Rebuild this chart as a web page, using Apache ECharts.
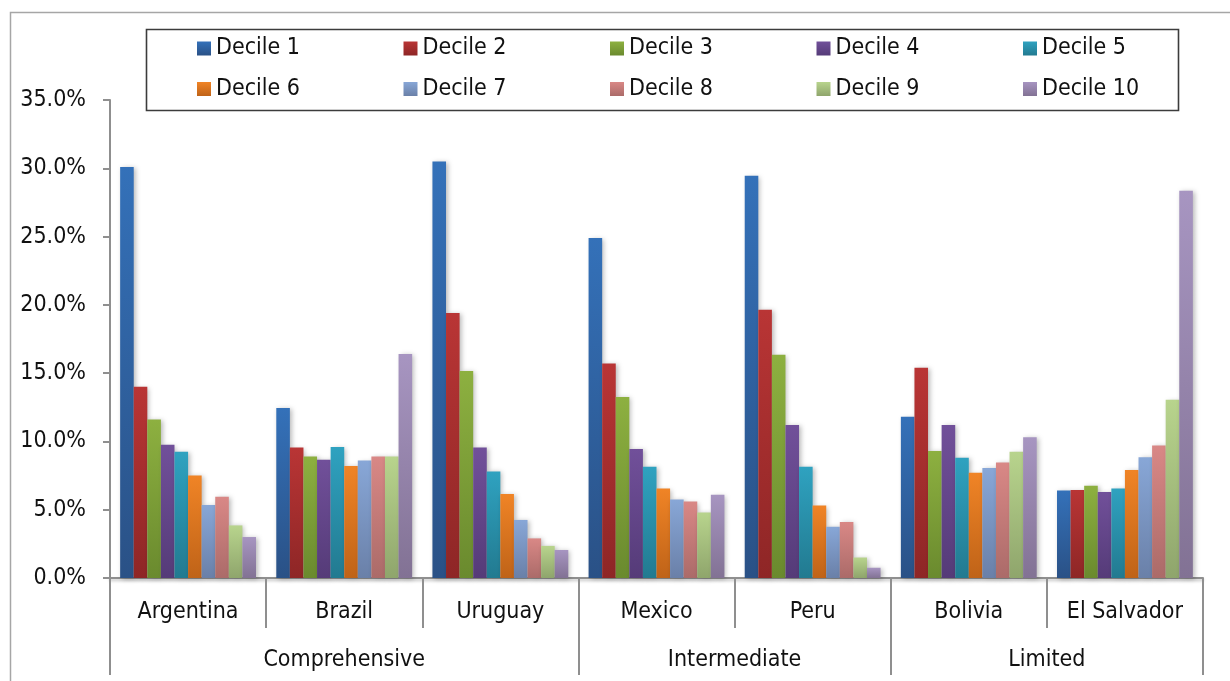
<!DOCTYPE html>
<html>
<head>
<meta charset="utf-8">
<script src="https://cdn.jsdelivr.net/npm/echarts@6/dist/echarts.min.js"></script>
<style>
  html, body { margin: 0; padding: 0; background: #ffffff; }
  #chart { width: 1230px; height: 681px; }
</style>
</head>
<body>
<div id="chart"></div>
<script>
// Countries on the x axis and the coverage group each one belongs to
const countries = ['Argentina', 'Brazil', 'Uruguay', 'Mexico', 'Peru', 'Bolivia', 'El Salvador'];
const groups = ['Comprehensive', 'Intermediate', 'Limited'];
const groupSizes = [3, 2, 2];

// Share of each income decile, in percent, per country
const decile1  = [30.1, 12.45, 30.5, 24.9, 29.45, 11.8, 6.4];
const decile2  = [14.0, 9.55, 19.4, 15.7, 19.65, 15.4, 6.45];
const decile3  = [11.6, 8.9, 15.15, 13.25, 16.35, 9.3, 6.75];
const decile4  = [9.75, 8.65, 9.55, 9.45, 11.2, 11.2, 6.3];
const decile5  = [9.25, 9.6, 7.8, 8.15, 8.15, 8.8, 6.55];
const decile6  = [7.5, 8.2, 6.15, 6.55, 5.3, 7.7, 7.9];
const decile7  = [5.35, 8.6, 4.25, 5.75, 3.75, 8.05, 8.85];
const decile8  = [5.95, 8.9, 2.9, 5.6, 4.1, 8.45, 9.7];
const decile9  = [3.85, 8.9, 2.35, 4.8, 1.5, 9.25, 13.05];
const decile10 = [3.0, 16.4, 2.05, 6.1, 0.75, 10.3, 28.35];

const seriesNames = ['Decile 1', 'Decile 2', 'Decile 3', 'Decile 4', 'Decile 5',
                     'Decile 6', 'Decile 7', 'Decile 8', 'Decile 9', 'Decile 10'];
const seriesData = [decile1, decile2, decile3, decile4, decile5,
                    decile6, decile7, decile8, decile9, decile10];

// Y axis range and step, in percent
const yMin = 0, yMax = 35, yStep = 5;

// Top / bottom shades of each bar's vertical gradient
const shades = [
  ['#3471b9', '#2a5186'],
  ['#b93535', '#8e2626'],
  ['#8db040', '#6a8a2e'],
  ['#71509a', '#553b78'],
  ['#2fa2c0', '#227a90'],
  ['#f08426', '#bf6318'],
  ['#88a7d7', '#6a80a8'],
  ['#d98886', '#ab6b69'],
  ['#b8d48d', '#8fa56c'],
  ['#a795c1', '#827294']
];

const FONT = "'Liberation Sans Narrow', 'DejaVu Sans Condensed', 'Arial Narrow', sans-serif";
const FS = 23;
const TEXT = '#111111';
const AXIS = '#8f8f8f';

function grad(pair) {
  return new echarts.graphic.LinearGradient(0, 0, 0, 1, [
    { offset: 0, color: pair[0] },
    { offset: 1, color: pair[1] }
  ]);
}

// Group boundaries and centers, in category units along the x axis
const groupEdges = [0];
groupSizes.forEach(n => groupEdges.push(groupEdges[groupEdges.length - 1] + n));
const groupCenters = groupSizes.map((n, i) => groupEdges[i] + n / 2);

const series = seriesNames.map((name, i) => ({
  name: name,
  type: 'bar',
  xAxisIndex: 0,
  barGap: '0%',
  barCategoryGap: '13%',
  data: seriesData[i],
  itemStyle: {
    color: grad(shades[i]),
    shadowColor: 'rgba(0,0,0,0.28)',
    shadowBlur: 5,
    shadowOffsetX: 2,
    shadowOffsetY: 1
  },
  emphasis: { disabled: true }
}));

function legendRow(names, top) {
  return {
    data: names,
    left: 197,
    top: top,
    orient: 'horizontal',
    itemWidth: 14,
    itemHeight: 14,
    itemGap: 77.5,
    icon: 'rect',
    padding: 0,
    selectedMode: false,
    textStyle: {
      fontFamily: FONT,
      fontSize: FS,
      color: TEXT,
      width: 110,
      lineHeight: 26
    }
  };
}

const chart = echarts.init(document.getElementById('chart'), null, { renderer: 'canvas' });

chart.setOption({
  backgroundColor: '#ffffff',
  animation: false,
  textStyle: { fontFamily: FONT },
  graphic: [
    {
      type: 'rect',
      left: 8, top: 10,
      shape: { width: 1240, height: 700 },
      style: { fill: 'none', stroke: '#a6a6a6', lineWidth: 1.5 },
      z: 0
    },
    {
      type: 'rect',
      left: 144, top: 27,
      shape: { width: 1032, height: 81 },
      style: { fill: 'none', stroke: '#3c3c3c', lineWidth: 1.6 },
      z: 0
    }
  ],
  legend: [
    legendRow(seriesNames.slice(0, 5), 35.5),
    legendRow(seriesNames.slice(5), 76)
  ],
  grid: {
    left: 110,
    right: 27,
    top: 100,
    bottom: 103,
    containLabel: false
  },
  xAxis: [
    {
      type: 'category',
      data: countries,
      position: 'bottom',
      axisLine: {
        show: true,
        lineStyle: { color: AXIS, width: 2, shadowColor: 'rgba(0,0,0,0.25)', shadowBlur: 3, shadowOffsetY: 2 }
      },
      axisTick: {
        show: true,
        inside: false,
        length: 50,
        interval: 0,
        alignWithLabel: false,
        lineStyle: { color: AXIS, width: 2 }
      },
      axisLabel: {
        interval: 0,
        margin: 23,
        fontFamily: FONT,
        fontSize: FS,
        color: TEXT
      },
      splitLine: { show: false }
    },
    {
      type: 'value',
      position: 'bottom',
      offset: 0,
      min: 0,
      max: countries.length,
      axisLine: { show: false },
      axisTick: {
        show: true,
        length: 97,
        customValues: groupEdges,
        lineStyle: { color: AXIS, width: 2 }
      },
      axisLabel: {
        show: true,
        customValues: groupCenters,
        margin: 71,
        fontFamily: FONT,
        fontSize: FS,
        color: TEXT,
        formatter: function (v) {
          const idx = groupCenters.findIndex(c => Math.abs(c - v) < 1e-6);
          return idx >= 0 ? groups[idx] : '';
        }
      },
      splitLine: { show: false }
    }
  ],
  yAxis: {
    type: 'value',
    min: yMin,
    max: yMax,
    interval: yStep,
    axisLine: { show: true, lineStyle: { color: AXIS, width: 2 } },
    axisTick: { show: true, length: 7, lineStyle: { color: AXIS, width: 2 } },
    axisLabel: {
      margin: 24,
      fontFamily: FONT,
      fontSize: FS,
      color: TEXT,
      formatter: v => v.toFixed(1) + '%'
    },
    splitLine: { show: false }
  },
  series: series
});
</script>
</body>
</html>
